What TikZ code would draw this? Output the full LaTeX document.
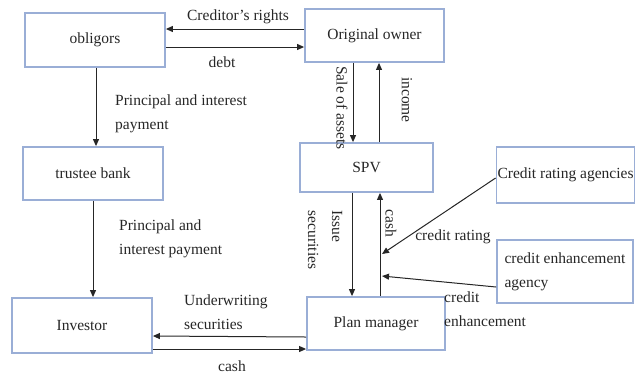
\documentclass[tikz,border=0pt]{standalone}
\usepackage{fontspec}
\setmainfont{Liberation Serif}
\usepackage{xcolor}
\definecolor{BoxBlue}{HTML}{9AAED6}
\definecolor{InkGray}{HTML}{262626}
\usepackage{tikz}
\usetikzlibrary{arrows.meta}

\begin{document}
\begin{tikzpicture}[x=1pt,y=-1pt,
  box/.style={draw=BoxBlue,line width=1.8pt,fill=white,align=center,text=InkGray,font=\fontsize{15.5}{24}\selectfont,inner sep=1pt},
  lbl/.style={text=InkGray,font=\fontsize{15.5}{24}\selectfont,inner sep=0pt,align=left},
  arr/.style={-{Triangle[length=7pt,width=6pt]},line width=1pt,InkGray}
]
  \useasboundingbox (0,0) rectangle (636,376);

  \node[box,minimum width=140pt,minimum height=54pt] (obligors) at (95,40) {obligors};
  \node[box,minimum width=139pt,minimum height=53pt] (owner) at (374.5,35.5) {Original owner};
  \node[box,minimum width=140pt,minimum height=53pt] (trustee) at (93,173.5) {trustee bank};
  \node[box,minimum width=133pt,minimum height=49pt] (spv) at (366.5,167.5) {SPV};
  \node[box,minimum width=137pt,minimum height=56pt] (rating) at (565.5,175) {Credit rating agencies};
  \node[box,minimum width=136pt,minimum height=63pt,align=left] (enhance) at (565,271.5) {credit enhancement\\agency};
  \node[box,minimum width=140pt,minimum height=55pt] (investor) at (82,325.5) {Investor};
  \node[box,minimum width=138pt,minimum height=53pt] (plan) at (376,323.5) {Plan manager};

  \draw[arr] ([yshift=6.5pt]owner.west) -- ([yshift=11pt]obligors.east);
  \draw[arr] ([yshift=-7pt]obligors.east) -- ([yshift=-11.5pt]owner.west);
  \draw[arr] ([xshift=1pt]obligors.south) -- ([xshift=3pt]trustee.north);
  \draw[arr] (trustee.south) -- ([xshift=11pt]investor.north);
  \draw[arr] ([xshift=-21.5pt]owner.south) -- ([xshift=-13.5pt]spv.north);
  \draw[arr] ([xshift=12.5pt]spv.north) -- ([xshift=4.5pt]owner.south);
  \draw[arr] ([xshift=-14.5pt]spv.south) -- ([xshift=-24pt]plan.north);
  \draw[arr] ([xshift=4pt]plan.north) -- ([xshift=13.5pt]spv.south);
  \coordinate (ratein) at (382,254);
  \coordinate (enhin) at (382,276);
  \draw[arr] ([yshift=-3pt]rating.west) -- (ratein);
  \draw[arr] ([yshift=-15.5pt]enhance.west) -- (enhin);
  \draw[arr] ([yshift=-13.5pt]plan.west) -- ([yshift=-10.5pt]investor.east);
  \draw[arr] ([yshift=-23.5pt]investor.east) -- ([yshift=-25.5pt]plan.west);

  \node[lbl] (lrights) at (238,17) {Creditor's rights};
  \node[lbl] (ldebt) at (222,62) {debt};
  \node[lbl,anchor=west] (lpayone) at (115,114) {Principal and interest\\payment};
  \node[lbl,anchor=west] (lpaytwo) at (119,239) {Principal and\\interest payment};
  \node[lbl,rotate=-90] (lsale) at (342,108) {Sale of assets};
  \node[lbl,rotate=-90] (lincome) at (407,100) {income};
  \node[lbl,rotate=-90] (lissue) at (325,240) {Issue\\securities};
  \node[lbl,rotate=-90] (lcashup) at (391,223) {cash};
  \node[lbl] (lrating) at (453,237) {credit rating};
  \node[lbl,anchor=west] (lenhance) at (444,309) {credit\\enhancement};
  \node[lbl,anchor=west] (lunder) at (184,312) {Underwriting\\securities};
  \node[lbl] (lcashin) at (232,366) {cash};
\end{tikzpicture}
\end{document}
